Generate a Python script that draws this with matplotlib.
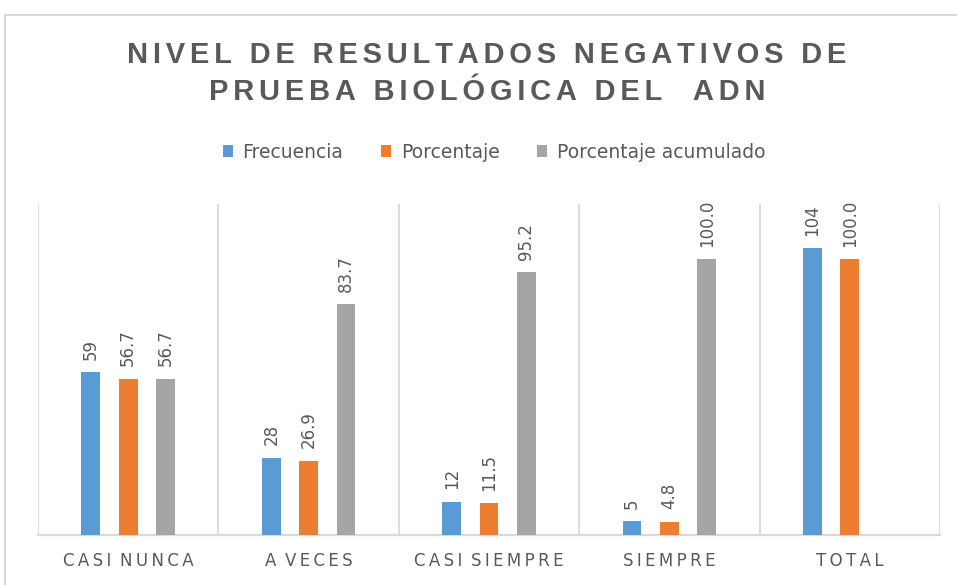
import numpy as np
from matplotlib import pyplot as plt
from matplotlib.lines import Line2D

categories = ["CASI NUNCA", "A VECES", "CASI SIEMPRE", "SIEMPRE", "TOTAL"]
frecuencia = [59, 28, 12, 5, 104]
porcentaje = [56.7, 26.9, 11.5, 4.8, 100.0]
acumulado = [56.7, 83.7, 95.2, 100.0, None]

series_names = ["Frecuencia", "Porcentaje", "Porcentaje acumulado"]
label_formats = ["{:.0f}", "{:.1f}", "{:.1f}"]

title_lines = ["NIVEL DE RESULTADOS NEGATIVOS DE", "PRUEBA BIOLÓGICA DEL  ADN"]

colors = ["#5B9BD5", "#ED7D31", "#A5A5A5"]
text_gray = "#595959"
line_gray = "#D9D9D9"


def spaced(text, sep="\u200a"):
    # letter spacing: put a small space between letters
    words = text.split(" ")
    return (sep + " ").join(sep.join(w) for w in words)


fig = plt.figure(figsize=(9.57, 5.85), dpi=100)
ax = fig.add_axes([38 / 957, 50 / 585, (940 - 38) / 957, (535 - 204) / 585])

x = np.arange(len(categories))
width = 0.104
offsets = [-0.207, 0.0, 0.207]

for i, values in enumerate([frecuencia, porcentaje, acumulado]):
    xs = [xi + offsets[i] for xi, v in zip(x, values) if v is not None]
    vs = [v for v in values if v is not None]
    bars = ax.bar(xs, vs, width, color=colors[i], label=series_names[i], zorder=3)
    for b, v in zip(bars, vs):
        ax.annotate(label_formats[i].format(v), (b.get_x() + b.get_width() / 2, v),
                    xytext=(0, 9), textcoords="offset points", rotation=90,
                    ha="center", va="bottom", fontsize=12, color=text_gray)

ax.set_xlim(-0.5, len(categories) - 0.5)
ax.set_ylim(0, 120)
ax.set_yticks([])
ax.set_xticks(x)
ax.set_xticklabels([spaced(c, "\u2009") for c in categories], fontsize=12, color=text_gray)
ax.tick_params(axis="x", length=0, pad=12)

# category separators
for b in np.arange(-0.5, len(categories), 1.0):
    ax.axvline(b, color=line_gray, lw=1.3, zorder=1)

for s in ["top", "left", "right"]:
    ax.spines[s].set_visible(False)
ax.spines["bottom"].set_color(line_gray)
ax.spines["bottom"].set_linewidth(1.6)

# title
for line, ypix in zip(title_lines, [55, 92]):
    fig.text(487 / 957, 1 - ypix / 585, "\u200a\u200a".join(line), ha="center", va="center",
             fontsize=21, fontweight="bold", color=text_gray,
             family=["Liberation Sans", "DejaVu Sans"])

fig.legend(loc="center", bbox_to_anchor=(494 / 957, 1 - 152 / 585), ncol=3, frameon=False,
           fontsize=13.5, labelcolor=text_gray, handlelength=0.55, handleheight=0.55,
           handletextpad=0.5, columnspacing=2.0)

# outer chart border
fig.add_artist(Line2D([5 / 957, 5 / 957], [0, 1 - 15 / 585], color=line_gray, lw=1.5))
fig.add_artist(Line2D([5 / 957, 1], [1 - 15 / 585, 1 - 15 / 585], color=line_gray, lw=1.5))

fig.savefig("out.png", dpi=100)
